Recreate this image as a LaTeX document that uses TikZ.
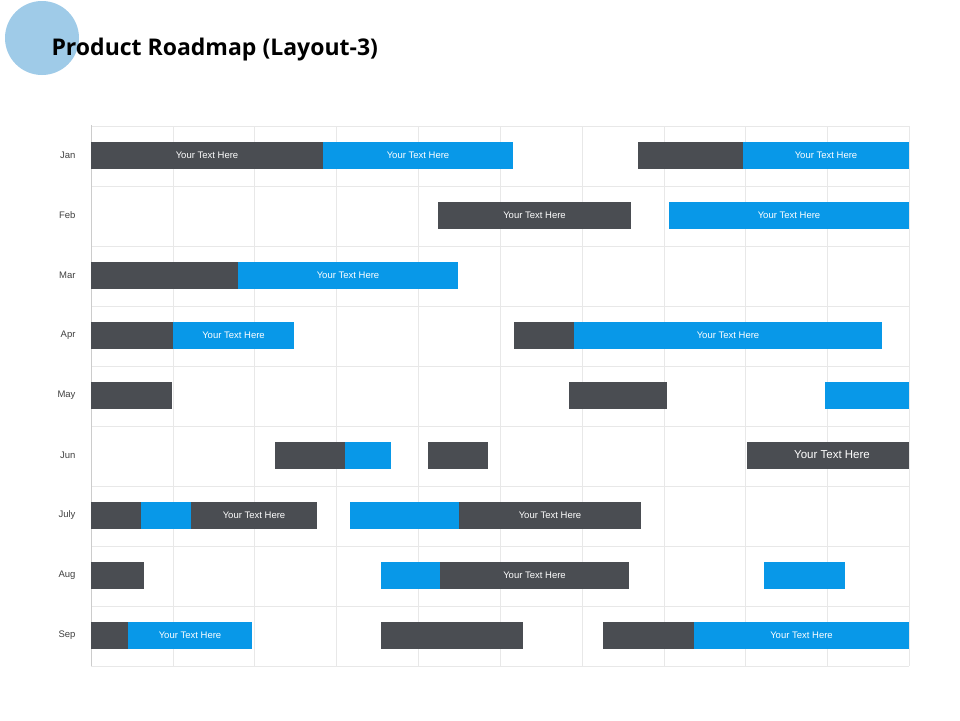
\documentclass[tikz,border=0pt]{standalone}
\usepackage{fontspec}
\setmainfont{Liberation Sans}
\newfontfamily\titlefont{Open Sans}
\definecolor{dk}{HTML}{4A4D52}
\definecolor{bl}{HTML}{0898E8}
\definecolor{circ}{HTML}{9FCBE8}
\definecolor{gridc}{HTML}{E8E8E8}
\begin{document}
\begin{tikzpicture}[x=1pt,y=-1pt,
  bar/.style={inner sep=0pt,text=white,font=\fontsize{9.5}{11}\selectfont},
  mon/.style={anchor=east,text=black!75,font=\fontsize{9.5}{11}\selectfont}]
\useasboundingbox (0,0) rectangle (960,720);
\fill[white] (0,0) rectangle (960,720);
\node[circle,fill=circ,minimum size=74pt,inner sep=0pt] (c) at (42,38) {};
\node[anchor=west,font=\titlefont\bfseries\fontsize{23}{26}\selectfont] (t) at (48,50) {Product Roadmap (Layout-3)};
\foreach \x in {173,254,336,418,500,582,664,745,827,909} \draw[gridc] (\x,126)--(\x,666);
\foreach \y in {126,186,246,306,366,426,486,546,606,666} \draw[gridc] (91,\y)--(909,\y);
\draw[black!20] (91,125)--(91,666);
\foreach \m/\y in {Jan/155,Feb/215,Mar/275,Apr/335,May/395,Jun/455,July/515,Aug/575,Sep/635}
  \node[mon] (m\m) at (79,\y) {\m};
\newcommand\rbar[5]{\fill[#3] (#1,{#4-13.5}) rectangle (#2,{#4+13.5});
  \node[bar] at ({(#1+#2)/2},#4) {#5};}
\rbar{91}{323}{dk}{155}{Your Text Here}
\rbar{323}{513}{bl}{155}{Your Text Here}
\rbar{638}{743}{dk}{155}{}
\rbar{743}{909}{bl}{155}{Your Text Here}
\rbar{438}{631}{dk}{215}{Your Text Here}
\rbar{669}{909}{bl}{215}{Your Text Here}
\rbar{91}{238}{dk}{275}{}
\rbar{238}{458}{bl}{275}{Your Text Here}
\rbar{91}{173}{dk}{335}{}
\rbar{173}{294}{bl}{335}{Your Text Here}
\rbar{514}{574}{dk}{335}{}
\rbar{574}{882}{bl}{335}{Your Text Here}
\rbar{91}{172}{dk}{395}{}
\rbar{569}{667}{dk}{395}{}
\rbar{825}{909}{bl}{395}{}
\rbar{275}{345}{dk}{455}{}
\rbar{345}{391}{bl}{455}{}
\rbar{428}{488}{dk}{455}{}
\fill[dk] (747,441.5) rectangle (909,468.5);
\node[bar,font=\fontsize{11.5}{13}\selectfont] at (832,455) {Your Text Here};
\rbar{91}{141}{dk}{515}{}
\rbar{141}{191}{bl}{515}{}
\rbar{191}{317}{dk}{515}{Your Text Here}
\rbar{350}{459}{bl}{515}{}
\rbar{459}{641}{dk}{515}{Your Text Here}
\rbar{91}{144}{dk}{575}{}
\rbar{381}{440}{bl}{575}{}
\rbar{440}{629}{dk}{575}{Your Text Here}
\rbar{764}{845}{bl}{575}{}
\rbar{91}{128}{dk}{635}{}
\rbar{128}{252}{bl}{635}{Your Text Here}
\rbar{381}{523}{dk}{635}{}
\rbar{603}{694}{dk}{635}{}
\rbar{694}{909}{bl}{635}{Your Text Here}
\end{tikzpicture}
\end{document}
